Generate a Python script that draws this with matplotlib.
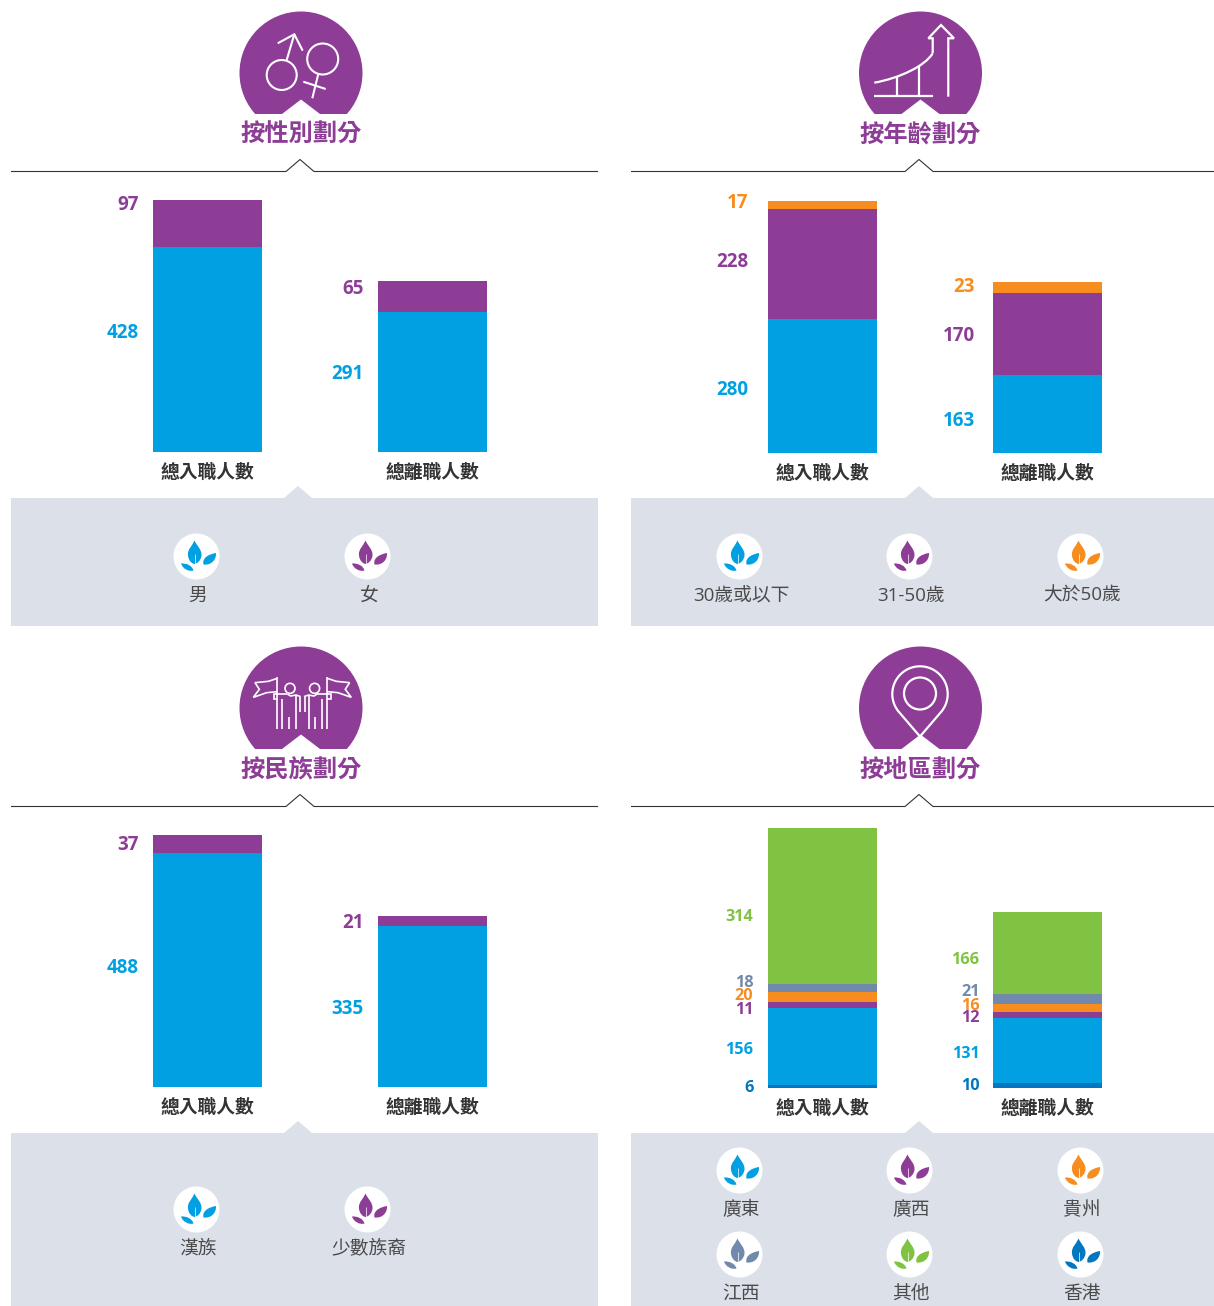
import numpy as np
import matplotlib
matplotlib.use("Agg")
import matplotlib.pyplot as plt
from matplotlib.patches import Circle, Polygon, Rectangle, PathPatch
from matplotlib.path import Path

W, H = 1214, 1306
BLUE, PURPLE, ORANGE = "#00A0E2", "#8E3D97", "#F78D1E"
GREEN, SLATE, DEEP = "#80C342", "#7189AA", "#0077C0"
PANEL = "#DCE0E9"
DARK = "#333333"
CJK = "Noto Sans CJK TC"
NUM = ["Open Sans", CJK]

bar_names = ["總入職人數", "總離職人數"]

gender_hire = [428, 97]
gender_leave = [291, 65]
gender_colors = [BLUE, PURPLE]
gender_legend = ["男", "女"]

age_hire = [280, 228, 17]
age_leave = [163, 170, 23]
age_colors = [BLUE, PURPLE, ORANGE]
age_legend = ["30歲或以下", "31-50歲", "大於50歲"]

ethnic_hire = [488, 37]
ethnic_leave = [335, 21]
ethnic_colors = [BLUE, PURPLE]
ethnic_legend = ["漢族", "少數族裔"]

region_hire = [6, 156, 11, 20, 18, 314]
region_leave = [10, 131, 12, 16, 21, 166]
region_colors = [DEEP, BLUE, PURPLE, ORANGE, SLATE, GREEN]
region_legend = ["廣東", "廣西", "貴州", "江西", "其他", "香港"]

titles = ["按性別劃分", "按年齡劃分", "按民族劃分", "按地區劃分"]

fig = plt.figure(figsize=(W / 100, H / 100), dpi=100, facecolor="white")
ov = fig.add_axes([0, 0, 1, 1], zorder=0)
ov.set_xlim(0, W)
ov.set_ylim(H, 0)
ov.axis("off")


def stroke(pts, lw=1.5, color="white", z=5, **kw):
    a = np.array(pts, float)
    ov.plot(a[:, 0], a[:, 1], color=color, lw=lw, zorder=z,
            solid_capstyle="butt", solid_joinstyle="miter", **kw)


def ring(cx, cy, r, lw=1.5):
    ov.add_patch(Circle((cx, cy), r, fill=False, ec="white", lw=lw, zorder=5))


def badge(cx, cy):
    c = Circle((cx, cy), 61.5, fc=PURPLE, ec="none", zorder=2)
    ov.add_patch(c)
    clip = Rectangle((cx - 70, cy - 70), 140, 110.5, transform=ov.transData)
    c.set_clip_path(clip)
    ov.add_patch(Polygon([(cx - 19, cy + 41), (cx, cy + 26.5), (cx + 19, cy + 41)],
                         fc="white", ec="none", zorder=3))


def rule(x0, x1, nx, y):
    stroke([(x0, y), (nx - 14, y), (nx, y - 12), (nx + 14, y), (x1, y)],
           lw=0.8, color=DARK, z=2)


def band(x0, x1, nx, y0, y1):
    ov.add_patch(Polygon([(x0, y0), (nx - 14, y0), (nx, y0 - 12), (nx + 14, y0),
                          (x1, y0), (x1, y1), (x0, y1)], fc=PANEL, ec="none", zorder=1))


def leaf(cx, cy, color):
    ov.add_patch(Circle((cx, cy), 23, fc="white", ec="none", zorder=2))
    big = [(-2, -16), (-4, -11), (-9.5, -7), (-8.5, -1), (-8, 4), (-5, 7), (-2, 7.5),
           (1, 7), (4.5, 4), (5, -1), (5.5, -7), (0, -11), (-2, -16)]
    right = [(7, 8), (5.5, 2), (11, -2), (19.5, -3.5), (20, 3), (15, 9), (7, 8)]
    low = [(-3, 14), (-4.5, 9), (-10, 6.5), (-15.5, 7), (-14, 12), (-8, 15.5), (-3, 14)]
    for shape in (big, right, low):
        pts = [(cx + x, cy + y) for x, y in shape]
        codes = [Path.MOVETO] + [Path.CURVE4] * (len(pts) - 1)
        ov.add_patch(PathPatch(Path(pts, codes), fc=color, ec="none", zorder=3))
    stroke([(cx - 2, cy - 3), (cx - 2, cy + 7.5)], lw=0.5, z=4)


def legend_item(cx, cy, label, color, ly):
    leaf(cx + 0.5, cy + 0.5, color)
    ov.text(cx + 2, ly + 2, label, ha="center", va="center", fontsize=13.5,
            color="#4A4A4A", family=NUM, zorder=4)


def chart(series, colors, left, top, base, first_bar):
    bar_w, step = 109, 225
    c0 = first_bar + bar_w / 2
    ax = fig.add_axes([left[0] / W, 1 - base / H, (left[1] - left[0]) / W, (base - top) / H], zorder=2)
    ax.patch.set_alpha(0)
    pos = np.arange(2)
    bottom = np.zeros(2)
    for vals, col in zip(zip(*series), colors):
        ax.bar(pos, vals, width=bar_w / step, bottom=bottom, color=col, linewidth=0)
        bottom += np.array(vals)
    ax.set_xlim((left[0] - c0) / step, (left[1] - c0) / step)
    ax.set_ylim(0, 525)
    ax.set_yticks([])
    ax.set_xticks(pos, bar_names)
    ax.tick_params(axis="x", length=0, pad=8.2)
    for t in ax.get_xticklabels():
        t.set_family(CJK)
        t.set_fontweight("bold")
        t.set_fontsize(13.5)
        t.set_color(DARK)
    for s in ax.spines.values():
        s.set_visible(False)


def values(vals, colors, x, ys, size=13.5):
    for v, c, y in zip(vals, colors, ys):
        ov.text(x, y + 2, str(v), ha="right", va="center", fontsize=size, fontweight="bold",
                color=c, family="Open Sans", zorder=4)


# panel frames
for nx, x0, x1, cx, cy, ty, ry, by0, by1, nb, t in [
    (300, 11, 598, 301, 73, 135, 171.5, 498, 626, 298, titles[0]),
    (919, 631, 1214, 920.5, 73, 135, 171.5, 498, 626, 919, titles[1]),
    (300, 11, 598, 301, 708, 770, 806.5, 1133, 1306, 298, titles[2]),
    (919, 631, 1214, 920.5, 708, 770, 806.5, 1133, 1306, 919, titles[3]),
]:
    badge(cx, cy)
    ov.text(cx, ty, t, ha="center", va="center", fontsize=17.5, fontweight="bold",
            color=PURPLE, family=CJK, zorder=4)
    rule(x0, x1, nx, ry)
    band(x0, x1, nb, by0, by1)

# gender icon
ring(281.7, 75, 15)
stroke([(286.7, 60), (294.3, 34.3)])
stroke([(277.7, 43.3), (294.3, 34.3), (302.7, 50.7)])
ring(322.7, 59, 15.5)
stroke([(318.3, 74), (312.3, 98.3)])
stroke([(303.3, 81.7), (325.7, 89)])

# age icon
curve = Path([(874.3, 82.7), (900, 78), (925, 66), (932.7, 53.3)],
             [Path.MOVETO, Path.CURVE4, Path.CURVE4, Path.CURVE4])
ov.add_patch(PathPatch(curve, fc="none", ec="white", lw=1.6, zorder=5))
stroke([(874.3, 95.7), (933.3, 95.7)], lw=1.6)
stroke([(897.3, 76), (897.3, 95.7)], lw=1.6)
stroke([(919.3, 66), (919.3, 95.7)], lw=1.6)
stroke([(932.7, 53), (932.7, 38.3), (928.3, 38.3), (941, 25), (954, 38.3),
        (948.3, 38.3), (948.3, 96.7)], lw=1.6)

# pin icon
th = np.radians(np.linspace(140, 400, 60))
arc = [(920 + 27.7 * np.cos(a), 694 + 27.7 * np.sin(a)) for a in th]
stroke([(920, 736.5)] + arc + [(920, 736.5)], lw=1.6)
ring(920, 693.5, 16, lw=1.6)

# people icon
MID = 302.3
def sx(px, side):
    x = 200 + px / 3
    return x if side == 0 else 2 * MID - x
for side in (0, 1):
    def pt(px, py):
        return (sx(px, side), 640 + py / 3)
    stroke([pt(232, 110), pt(232, 178), pt(222, 178), pt(222, 162), pt(262, 162)], lw=1.2)
    stroke([pt(232, 115), pt(205, 124), pt(165, 128), pt(178, 148), pt(160, 172),
            pt(200, 158), pt(232, 155)], lw=1.2)
    stroke([pt(232, 178), pt(232, 268)], lw=1.2)
    stroke([pt(247, 178), pt(247, 268)], lw=1.2)
    stroke([pt(268, 230), pt(268, 268)], lw=1.2)
    stroke([pt(288, 165), pt(288, 268)], lw=1.2)
    stroke([pt(300, 172), pt(300, 215)], lw=1.2)
    stroke([pt(262, 162), pt(272, 168), pt(288, 165), pt(302, 170)], lw=1.2)
    c = pt(270, 145)
    ring(c[0], c[1], 5, lw=1.2)

# charts
chart([gender_hire, gender_leave], gender_colors, (11, 598), 200, 452, 153)
chart([age_hire, age_leave], age_colors, (631, 1214), 201, 453, 768)
chart([ethnic_hire, ethnic_leave], ethnic_colors, (11, 598), 835, 1087, 153)
chart([region_hire, region_leave], region_colors, (631, 1214), 828, 1088, 768)

# value labels
values(gender_hire, gender_colors, 138.5, [331, 203])
values(gender_leave, gender_colors, 363.5, [372, 287])
values(age_hire, age_colors, 748.5, [388, 260, 201])
values(age_leave, age_colors, 975, [419, 334, 285])
values(ethnic_hire, ethnic_colors, 138.5, [966, 843])
values(ethnic_leave, ethnic_colors, 363.5, [1007, 921])
values(region_hire, region_colors, 753.5, [1086.5, 1047.5, 1007.5, 994, 981, 915], 11.7)
values(region_leave, region_colors, 979.5, [1083.5, 1051.5, 1016.5, 1003.5, 990.5, 958], 11.7)

# legends
for lab, col, x in zip(gender_legend, gender_colors, [196, 367]):
    legend_item(x, 556, lab, col, 594)
for lab, col, x in zip(age_legend, age_colors, [739, 909, 1080]):
    legend_item(x, 556, lab, col, 594)
for lab, col, x in zip(ethnic_legend, ethnic_colors, [196, 367]):
    legend_item(x, 1209, lab, col, 1246)
legend_colors = [BLUE, PURPLE, ORANGE, SLATE, GREEN, DEEP]
for i, (lab, col) in enumerate(zip(region_legend, legend_colors)):
    x = [739, 909, 1080][i % 3]
    row = i // 3
    legend_item(x, [1170, 1254][row], lab, col, [1208, 1292][row])

fig.savefig("out.png", dpi=100, facecolor="white")
